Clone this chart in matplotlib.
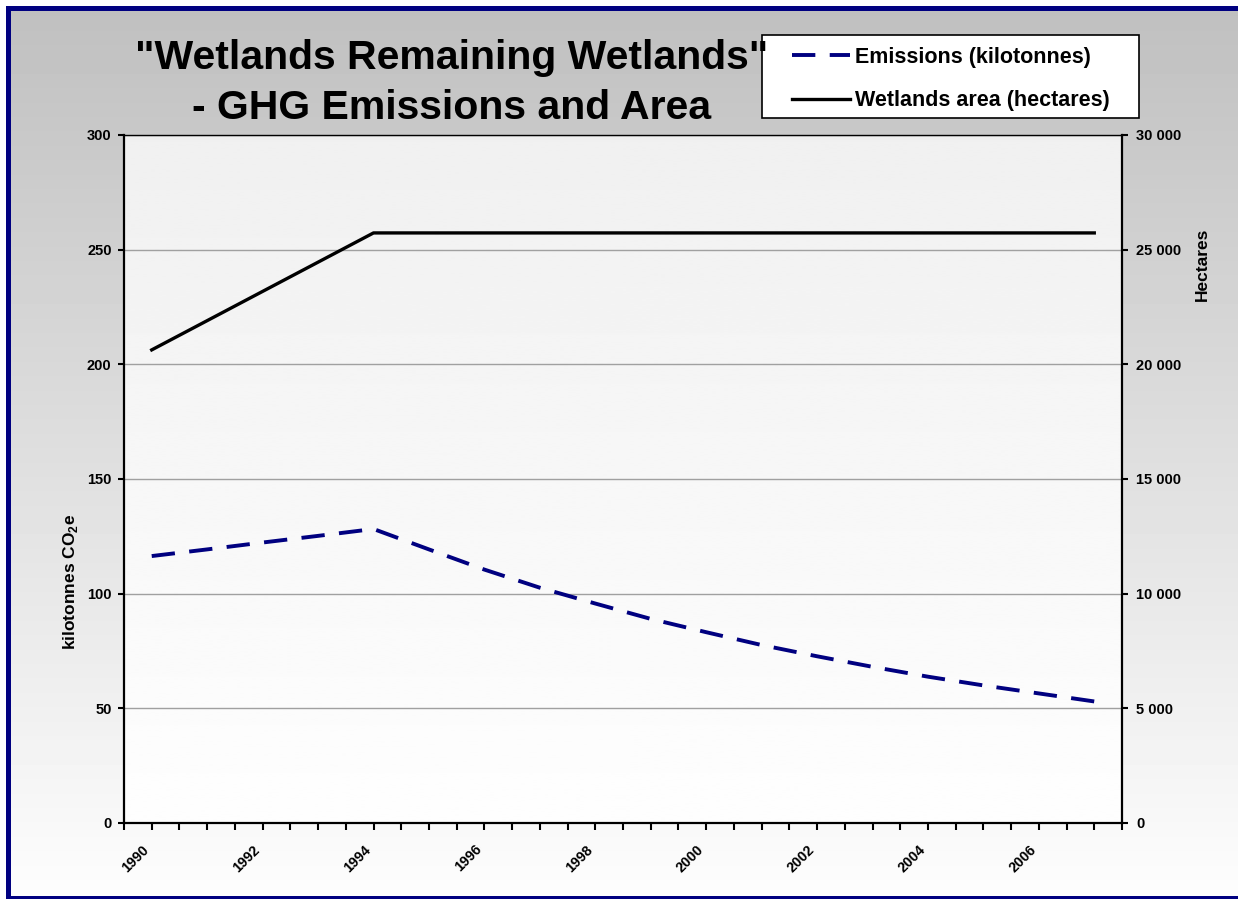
import matplotlib
matplotlib.use("Agg")
import matplotlib.pyplot as plt
import numpy as np
from matplotlib.patches import Rectangle
from matplotlib.ticker import FuncFormatter

plt.rcParams['font.family'] = ['Liberation Sans', 'DejaVu Sans']
plt.rcParams['font.weight'] = 'bold'
plt.rcParams['mathtext.fontset'] = 'custom'
plt.rcParams['mathtext.rm'] = 'Liberation Sans:bold'
plt.rcParams['mathtext.bf'] = 'Liberation Sans:bold'

# ---- data ----
years = list(range(1990, 2008))
emissions = [116.4, 119.3, 122.3, 125.2, 128.2, 119.3, 110.5, 102.6, 95.7, 89.0,
             83.2, 77.6, 72.7, 68.1, 63.8, 60.0, 56.5, 53.0]
wetlands_area = [20630, 21905, 23180, 24455, 25730, 25730, 25730, 25730, 25730,
                 25730, 25730, 25730, 25730, 25730, 25730, 25730, 25730, 25730]
year_labels = ['1990', '1992', '1994', '1996', '1998', '2000', '2002', '2004', '2006']
title = '"Wetlands Remaining Wetlands"\n- GHG Emissions and Area'
series_names = ['Emissions (kilotonnes)', 'Wetlands area (hectares)']

W, H = 1238, 899
fig = plt.figure(figsize=(W / 100, H / 100), dpi=100)
fig.patch.set_facecolor('white')

# background layer in pixel coordinates
bg = fig.add_axes([0, 0, 1, 1], zorder=-10)
bg.axis('off')
grad_outer = np.linspace(192, 253, 256).reshape(-1, 1) / 255.0
bg.imshow(grad_outer, extent=(11, W, 896, 11), cmap='gray', vmin=0, vmax=1,
          aspect='auto', interpolation='bilinear')
L, R, T, B = 124, 1122, 135, 823
grad_plot = np.linspace(240, 254, 256).reshape(-1, 1) / 255.0
bg.imshow(grad_plot, extent=(L, R, B, T), cmap='gray', vmin=0, vmax=1,
          aspect='auto', interpolation='bilinear')
navy = '#000080'
bg.add_patch(Rectangle((6, 6), 5, 893, color=navy, lw=0))
bg.add_patch(Rectangle((6, 6), W - 6, 5, color=navy, lw=0))
bg.add_patch(Rectangle((6, 896), W - 6, 3, color=navy, lw=0))
# legend frame
bg.add_patch(Rectangle((762, 35), 377, 83, facecolor='white', edgecolor='black', lw=1.2))
bg.set_xlim(0, W)
bg.set_ylim(H, 0)

ax = fig.add_axes([L / W, (H - B) / H, (R - L) / W, (B - T) / H])
ax.patch.set_visible(False)
ax.set_xlim(1989.5, 2007.5)
ax.set_ylim(0, 300)
ax.set_yticks([0, 50, 100, 150, 200, 250, 300])
ax.yaxis.grid(True, color='#A0A0A0', lw=1.0)
ax.set_axisbelow(True)

tick_pos = [1989.5 + 0.5 * i for i in range(37)]
lab_map = {float(s): s for s in year_labels}
tick_labels = [lab_map.get(p, '') for p in tick_pos]
ax.set_xticks(tick_pos)
ax.set_xticklabels(tick_labels, rotation=45, ha='right', va='top',
                   fontsize=10.3, fontweight='bold')

ax.tick_params(axis='x', direction='out', length=5, width=1.5, pad=9)
ax.tick_params(axis='y', direction='out', length=4, width=1.5, pad=5, labelsize=10.5)

for s in ['left', 'bottom']:
    ax.spines[s].set_linewidth(1.6)
ax.spines['top'].set_linewidth(1.0)
ax.spines['right'].set_visible(False)

l1, = ax.plot(years, emissions, color=navy, lw=2.8, linestyle=(0, (6.0, 3.7)),
              dash_capstyle='butt', zorder=3)

ax2 = ax.twinx()
ax2.set_ylim(0, 30000)
ax2.set_yticks([0, 5000, 10000, 15000, 20000, 25000, 30000])
ax2.yaxis.set_major_formatter(FuncFormatter(lambda v, p: f"{v:,.0f}".replace(',', ' ')))
ax2.tick_params(axis='y', direction='out', length=4, width=1.5, pad=6, labelsize=10.5)
for s in ['left', 'bottom', 'top']:
    ax2.spines[s].set_visible(False)
ax2.spines['right'].set_linewidth(1.6)
l2, = ax2.plot(years, wetlands_area, color='black', lw=2.4, zorder=3)

for t in ax.get_yticklabels() + ax2.get_yticklabels():
    t.set_fontweight('bold')

# axis titles
fig.text(70 / W, 1 - 582 / H, r'kilotonnes CO$_\mathbf{2}$e', rotation=90,
         ha='center', va='center', fontsize=12.5, fontweight='bold')
fig.text(1202 / W, 1 - 264 / H, 'Hectares', rotation=90,
         ha='center', va='center', fontsize=12.5, fontweight='bold')

# title
fig.text(452 / W, 1 - 83 / H, title, ha='center', va='center',
         fontsize=29.5, fontweight='bold', linespacing=1.38, multialignment='center')

leg = fig.legend([l1, l2], series_names, loc='upper left',
                 bbox_to_anchor=(792 / W, 1 - 47 / H), bbox_transform=fig.transFigure,
                 borderaxespad=0, handlelength=2.7, handletextpad=0.22,
                 labelspacing=1.03, borderpad=0, frameon=False,
                 prop={'weight': 'bold', 'size': 15.5})

fig.savefig('out.png', dpi=100)
